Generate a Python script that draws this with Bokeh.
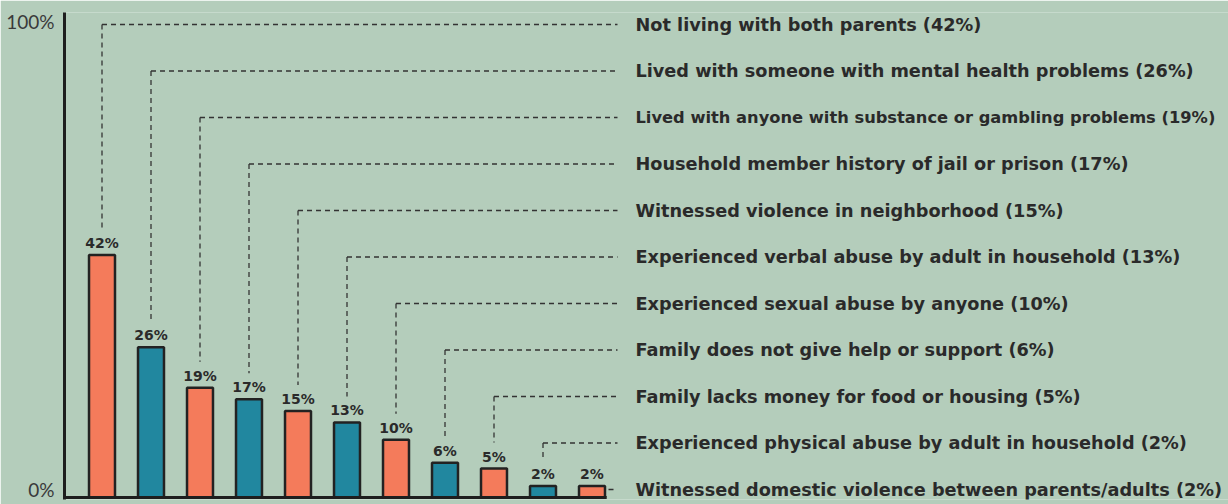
from bokeh.plotting import figure
from bokeh.models import Range1d, FixedTicker, CustomJSTickFormatter, ColumnDataSource
from bokeh.embed import file_html
from bokeh.resources import INLINE
from bokeh.core.properties import value

# ---- data ----
categories = [
    "Not living with both parents",
    "Lived with someone with mental health problems",
    "Lived with anyone with substance or gambling problems",
    "Household member history of jail or prison",
    "Witnessed violence in neighborhood",
    "Experienced verbal abuse by adult in household",
    "Experienced sexual abuse by anyone",
    "Family does not give help or support",
    "Family lacks money for food or housing",
    "Experienced physical abuse by adult in household",
    "Witnessed domestic violence between parents/adults",
]
percent = [42, 26, 19, 17, 15, 13, 10, 6, 5, 2, 2]
axis_tick_labels = ["0%", "100%"]

# ---- style / layout ----
BG = "#b4cdbb"
ORANGE = "#f47b5b"
TEAL = "#21879f"
INK = "#2a2a2a"
FONT = "DejaVu Sans"

W, H = 1228, 504
LEFT, TOP, BOTTOM = 64, 12, 5
PX_X = 49.0            # px per bar slot
BAR0_PX = 101.5        # screen x of first bar center
frame_w = W - LEFT
frame_h = H - TOP - BOTTOM
y_start, y_end = -0.35, 84.0
ppu = frame_h / (y_end - y_start)

x_start = (LEFT - BAR0_PX) / PX_X
x_end = x_start + frame_w / PX_X


def xd(px):
    return (px - BAR0_PX) / PX_X


def yd(px):
    return y_end - (px - TOP) / ppu


n = len(percent)
xs = list(range(n))
colors = [ORANGE if i % 2 == 0 else TEAL for i in range(n)]

p = figure(width=W, height=H, output_backend="svg", toolbar_location=None,
           x_range=Range1d(x_start, x_end), y_range=Range1d(y_start, y_end),
           min_border_left=LEFT, min_border_right=0, min_border_top=TOP,
           min_border_bottom=BOTTOM)
p.background_fill_color = BG
p.border_fill_color = BG
p.outline_line_color = None
p.grid.visible = False
p.xaxis.visible = False

p.yaxis.ticker = FixedTicker(ticks=[yd(489), yd(21)])
p.yaxis.formatter = CustomJSTickFormatter(
    args=dict(lab=axis_tick_labels),
    code="return tick < 40 ? lab[0] : lab[1];")
p.yaxis.axis_line_width = 3
p.yaxis.axis_line_color = "#1e1e1e"
p.yaxis.major_tick_line_color = None
p.yaxis.minor_tick_line_color = None
p.yaxis.major_label_text_font = "Lato"
p.yaxis.major_label_text_font_size = "19px"
p.yaxis.major_label_text_color = "#3a3a3a"
p.yaxis.major_label_standoff = 4

# bars
src = ColumnDataSource(dict(x=xs, top=percent, color=colors,
                            lab=[f"{v}%" for v in percent]))
p.vbar(x="x", top="top", bottom=0, width=0.53, source=src, fill_color="color",
       line_color="#222222", line_width=2.5)

# baseline
p.segment(x0=[x_start], y0=[0], x1=[n - 1 + 0.3], y1=[0],
          line_color="#1e1e1e", line_width=3)

# value labels
p.text(x="x", y="top", text="lab", source=src, text_align="center",
       text_baseline="bottom", y_offset=-4, text_font=value(FONT),
       text_font_style="bold", text_font_size="14px", text_color=INK)

# leader lines
row_px = [24 + 46.5 * i for i in range(n)]
row_y = [yd(r) for r in row_px]
gap = 26 / ppu
vx0, vy0, vx1, vy1 = [], [], [], []
hx0, hx1, hy = [], [], []
for i in range(n):
    if i < n - 1:
        vx0.append(i); vx1.append(i)
        vy0.append(row_y[i]); vy1.append(percent[i] + gap)
        hx0.append(i)
    else:
        hx0.append(xd(608))
    hx1.append(xd(617)); hy.append(row_y[i])
p.segment(x0=vx0, y0=vy0, x1=vx1, y1=vy1, line_color="#333333",
          line_width=1.3, line_dash="5 4")
p.segment(x0=hx0, y0=hy, x1=hx1, y1=hy, line_color="#333333",
          line_width=1.3, line_dash="5 4")

# category labels (the long third label is set tighter, as in the original)
label_sizes = ["17.7px"] * n
label_sizes[2] = "16.3px"
p.text(x=[xd(635)] * n, y=row_y,
       text=[f"{c} ({v}%)" for c, v in zip(categories, percent)],
       text_align="left", text_baseline="middle", text_font=value(FONT),
       text_font_style="bold", text_font_size=label_sizes, text_color=INK)

open("out.html", "w").write(file_html(p, INLINE))
